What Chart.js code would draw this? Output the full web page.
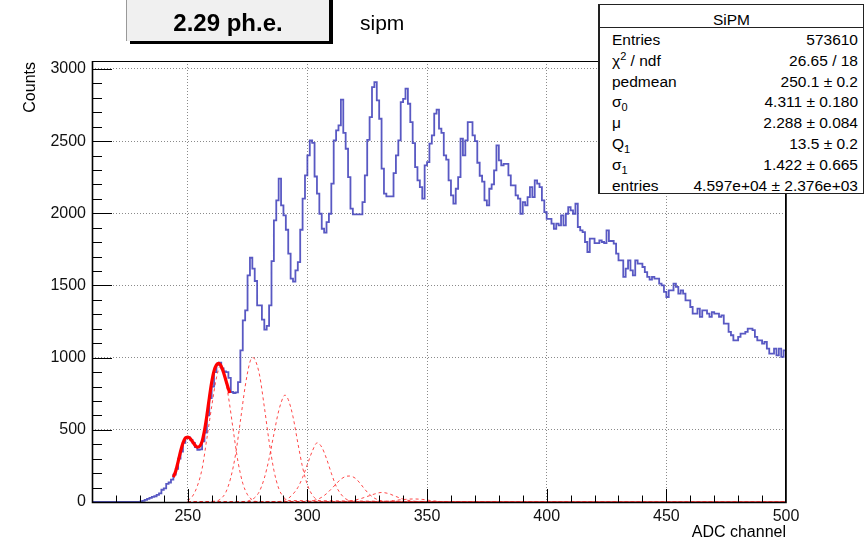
<!DOCTYPE html>
<html>
<head>
<meta charset="utf-8">
<script src="https://cdn.jsdelivr.net/npm/chart.js@4.4.1/dist/chart.umd.min.js"></script>
<style>
  body { margin: 0; background: #fff; }
  #wrap { position: relative; width: 866px; height: 541px; overflow: hidden; font-family: "Liberation Sans", Arial, sans-serif; color: #000; }
  #c { position: absolute; left: 0; top: 0; }
  #ptitle { position: absolute; left: 126px; top: -10px; width: 203px; height: 51px; box-sizing: border-box;
            background: #f0f0f0; border-left: 1px solid #999; box-shadow: 4px 3px 0 #000;
            font-weight: bold; font-size: 24px; line-height: 24px; padding-top: 21px; text-align: center; }
  #htitle { position: absolute; left: 360px; top: 11px; font-size: 21px; line-height: 24px; }
  #stats { position: absolute; left: 598px; top: 4px; width: 266px; height: 190px; box-sizing: border-box;
           background: #fff; border: 1px solid #222; border-left-width: 2px; font-size: 15.5px; }
  #stats .st { height: 23px; box-sizing: border-box; border-bottom: 1px solid #222; text-align: center;
               line-height: 20px; padding-top: 5px; }
  #stats .rows { padding-top: 2px; }
  #stats .r { display: flex; justify-content: space-between; height: 20.8px; line-height: 20.8px; padding: 0 5px 0 12px; }
  sub, sup { font-size: 11px; line-height: 0; }
</style>
</head>
<body>
<div id="wrap">
  <canvas id="c" width="866" height="541"></canvas>
  <div id="ptitle">2.29 ph.e.</div>
  <div id="htitle">sipm</div>
  <div id="stats">
    <div class="st">SiPM</div>
    <div class="rows">
      <div class="r"><span>Entries</span><span>573610</span></div>
      <div class="r"><span>χ<sup>2</sup> / ndf</span><span>26.65 / 18</span></div>
      <div class="r"><span>pedmean</span><span>250.1 ± 0.2</span></div>
      <div class="r"><span>σ<sub>0</sub></span><span>4.311 ± 0.180</span></div>
      <div class="r"><span>μ</span><span>2.288 ± 0.084</span></div>
      <div class="r"><span>Q<sub>1</sub></span><span>13.5 ± 0.2</span></div>
      <div class="r"><span>σ<sub>1</sub></span><span>1.422 ± 0.665</span></div>
      <div class="r"><span>entries</span><span>4.597e+04 ± 2.376e+03</span></div>
    </div>
  </div>
</div>
<script>
// histogram: one bin per ADC channel, first bin starts at 210
const firstBin = 210;
const counts210 = [0,0,0,0,0,0,0,0,0,0, 0,0,0,0,0,0,0,0,0,0,
  3,8,15,22,28,35,40,50,60,85, 95,125,135,155,190,230,300,350,410,445];
const counts250 = [448,430,410,380,362,365,420,480,600,720, 800,900,950,965,925,905,900,860,762,755,
  760,831,1050,1258,1328,1570,1692,1616,1531,1362, 1362,1263,1194,1220,1362,1669,1951,2089,2240,2055];
const counts290 = [1985,1886,1720,1547,1526,1604,1662,1886,2101,2262, 2401,2505,2488,2255,2136,1997,1893,1866,1939,1997,
  2205,2505,2574,2609,2787,2557,2447,2251,2032,1993, 1993,1993,1993,2077,2262,2509,2666,2874,2909,2782];
const counts330 = [2655,2309,2136,2117,2117,2117,2278,2401,2505,2770, 2793,2863,2759,2632,2486,2320,2228,2181,2101,2332,
  2355,2482,2540,2690,2718,2586,2557,2401,2372,2228, 2124,2067,2170,2251,2517,2401,2505,2632,2632,2540];
const counts370 = [2500,2350,2260,2220,2090,2055,2170,2200,2297,2470, 2366,2332,2343,2343,2262,2193,2193,2124,2101,1997,
  2078,2055,2112,2181,2112,2228,2205,2181,2089,2008, 1962,1962,1928,1893,1928,1916,1986,1916,1997,2043];
const counts410 = [2020,1997,2066,1905,1882,1870,1801,1732,1824,1824, 1794,1794,1813,1801,1794,1882,1808,1808,1790,1720,
  1674,1674,1559,1617,1674,1605,1570,1674,1651,1651, 1628,1593,1559,1540,1559,1547,1547,1513,1501,1455];
const counts450 = [1420,1466,1466,1513,1490,1443,1466,1443,1397,1397, 1351,1305,1305,1339,1282,1328,1328,1305,1282,1316,
  1305,1305,1282,1293,1236,1236,1178,1155,1120,1120, 1144,1166,1166,1178,1201,1201,1190,1144,1120,1120,
  1097,1109,1062,1028,1028,1062,1016,1062,1005,1051];

// total fit (solid red)
const fitX = [244,245,246,247,248,249,250,251,252,253,254,255,256,257,258,259,260,261,262,263,264,265,266,267,267.6];
const fitY = [172,215,280,350,408,443,450,441,418,394,380,386,420,495,598,718,828,908,950,960,940,896,840,784,755];

// single photo-electron peaks (dashed red)
const pe1X = [250,252,254,256,258,260,262,263.6,265,267,269,271,273,275,277,279,500];
const pe1Y = [10,40,110,230,440,660,860,940,900,730,500,280,130,50,15,3,0];
const pe2X = [250,262,264,266,268,270,272,274,276,277.1,278,280,282,284,286,288,290,292,500];
const pe2Y = [0,7,25,70,170,330,560,800,970,1000,990,880,660,420,220,95,35,10,0];
const pe3X = [250,274,276,278,280,282,284,286,288,290,290.6,292,294,296,298,300,302,304,306,500];
const pe3Y = [0,3,12,30,75,165,300,470,630,730,740,710,590,410,240,120,50,17,5,0];
const pe4X = [250,288,290,292,294,296,298,300,302,304.1,306,308,310,312,314,316,318,320,500];
const pe4Y = [0,3,10,25,55,100,170,260,350,410,380,300,200,110,55,22,8,2,0];
const pe5X = [250,300,302,304,306,308,310,312,314,316,317.6,320,322,324,326,328,330,332,334,500];
const pe5Y = [0,3,8,17,33,58,90,125,158,177,180,165,130,88,52,27,12,5,2,0];
const pe6X = [250,314,318,322,326,328,331,334,336,340,344,348,500];
const pe6Y = [0,2,8,22,44,55,66,58,45,20,6,1,0];
const pe7X = [250,328,332,336,340,344.6,348,352,356,360,500];
const pe7Y = [0,1,4,10,17,21,18,9,3,1,0];

const xTickLabels = [250,300,350,400,450,500];
const yTickLabels = [0,500,1000,1500,2000,2500,3000];
const xRange = [210, 500];
const yRange = [0, 3055];
const xMinorStep = 10;
const yMinorStep = 100;

const counts = [].concat(counts210, counts250, counts290, counts330, counts370, counts410, counts450);
const histPts = counts.map((c, i) => ({x: firstBin + i, y: c}));
histPts.push({x: firstBin + counts.length, y: counts[counts.length - 1]});

const pairs = (xs, ys) => xs.map((v, i) => ({x: v, y: ys[i]}));
const peSets = [[pe1X,pe1Y],[pe2X,pe2Y],[pe3X,pe3Y],[pe4X,pe4Y],[pe5X,pe5Y],[pe6X,pe6Y],[pe7X,pe7Y]];

const font = '"Liberation Sans", Arial, sans-serif';

const rootFrame = {
  id: 'rootFrame',
  afterDatasetsDraw(chart) {
    const {ctx, chartArea: a, scales: {x, y}} = chart;
    ctx.save();
    ctx.strokeStyle = '#000';
    ctx.lineWidth = 1;
    ctx.beginPath();
    for (let v = xRange[0] + xMinorStep; v < xRange[1]; v += xMinorStep) {
      const px = Math.round(x.getPixelForValue(v)) + 0.5;
      const len = xTickLabels.includes(v) ? 13 : 6.5;
      ctx.moveTo(px, a.bottom);
      ctx.lineTo(px, a.bottom - len);
    }
    for (let v = yMinorStep; v < yRange[1]; v += yMinorStep) {
      const py = Math.round(y.getPixelForValue(v)) + 0.5;
      const len = yTickLabels.includes(v) ? 20 : 10;
      ctx.moveTo(a.left, py);
      ctx.lineTo(a.left + len, py);
    }
    ctx.stroke();
    ctx.strokeRect(a.left + 0.5, a.top + 0.5, a.right - a.left - 1, a.bottom - a.top);
    ctx.lineWidth = 1.6;
    ctx.beginPath();
    ctx.moveTo(a.left + 0.5, a.top);
    ctx.lineTo(a.left + 0.5, a.bottom + 0.5);
    ctx.lineTo(a.right, a.bottom + 0.5);
    ctx.lineTo(a.right, a.top);
    ctx.stroke();

    ctx.fillStyle = '#000';
    ctx.font = '16px ' + font;
    ctx.textAlign = 'right';
    ctx.textBaseline = 'middle';
    ctx.fillText('ADC channel', a.right, 533);
    ctx.translate(31, a.top + 1);
    ctx.rotate(-Math.PI / 2);
    ctx.fillText('Counts', 0, 0);
    ctx.restore();
  }
};

const datasets = [{
  data: histPts,
  borderColor: 'rgba(60,60,185,0.85)',
  borderWidth: 1.8,
  stepped: true,
  pointRadius: 0,
  order: 3
}, {
  data: pairs(fitX, fitY),
  borderColor: '#ff0000',
  borderWidth: 3.2,
  cubicInterpolationMode: 'monotone',
  pointRadius: 0,
  order: 1
}];
peSets.forEach(([xs, ys]) => datasets.push({
  data: pairs(xs, ys),
  borderColor: 'rgba(255,40,40,0.85)',
  borderWidth: 1,
  borderDash: [3, 3],
  cubicInterpolationMode: 'monotone',
  pointRadius: 0,
  order: 2
}));

new Chart(document.getElementById('c'), {
  type: 'line',
  data: {datasets: datasets},
  options: {
    responsive: false,
    animation: false,
    devicePixelRatio: 1,
    layout: {padding: {top: 61, right: 80, left: 0, bottom: 0}},
    plugins: {legend: {display: false}, tooltip: {enabled: false}},
    scales: {
      x: {
        type: 'linear',
        min: xRange[0],
        max: xRange[1],
        afterFit: s => { s.height = 39; },
        afterBuildTicks: s => {
          const t = [];
          for (let v = xRange[0]; v <= xRange[1]; v += xMinorStep) t.push({value: v});
          s.ticks = t;
        },
        ticks: {
          autoSkip: false, maxRotation: 0, padding: 5, color: '#111',
          font: {family: font, size: 16},
          callback: v => xTickLabels.includes(v) ? String(v) : ''
        },
        grid: {
          drawTicks: false,
          color: c => (c.tick && xTickLabels.includes(c.tick.value) && c.tick.value < xRange[1]) ? '#8a8a8a' : 'rgba(0,0,0,0)',
          lineWidth: 1
        },
        border: {display: false, dash: [1, 2]}
      },
      y: {
        min: yRange[0],
        max: yRange[1],
        afterFit: s => { s.width = 92; },
        afterBuildTicks: s => {
          const t = [];
          for (let v = 0; v <= 3000; v += yMinorStep) t.push({value: v});
          s.ticks = t;
        },
        ticks: {
          autoSkip: false, padding: 6, color: '#111',
          font: {family: font, size: 16},
          callback: v => yTickLabels.includes(v) ? String(v) : ''
        },
        grid: {
          drawTicks: false,
          color: c => (c.tick && yTickLabels.includes(c.tick.value) && c.tick.value > 0) ? '#8a8a8a' : 'rgba(0,0,0,0)',
          lineWidth: 1
        },
        border: {display: false, dash: [1, 2]}
      }
    }
  },
  plugins: [rootFrame]
});
</script>
</body>
</html>
